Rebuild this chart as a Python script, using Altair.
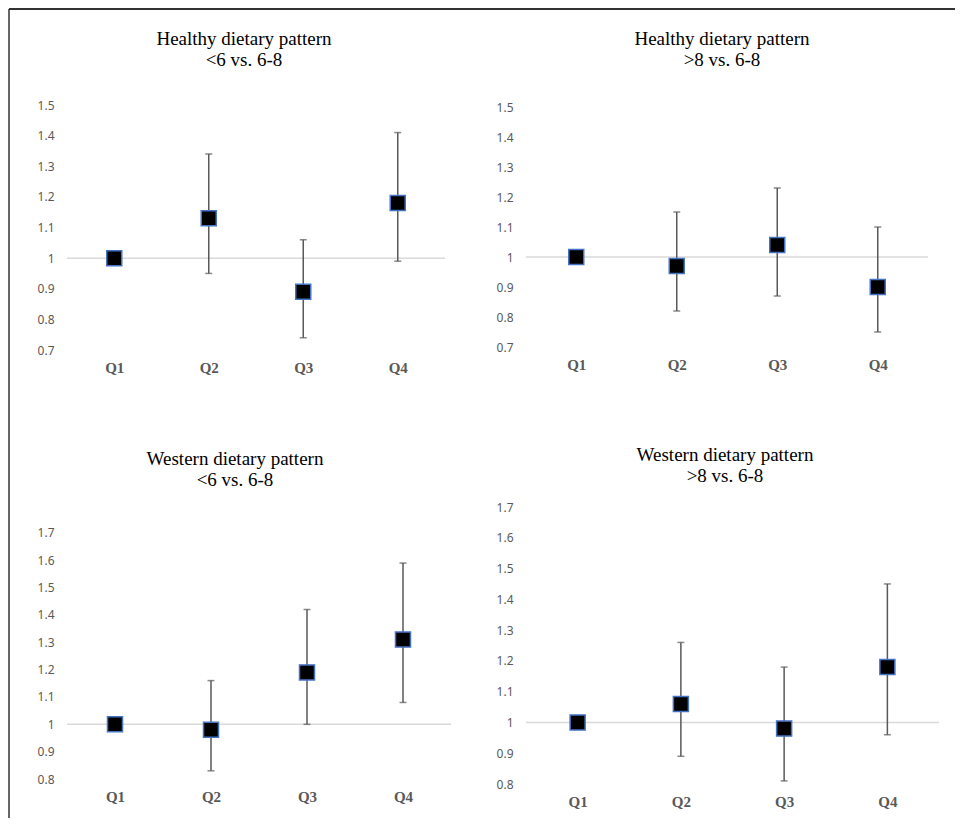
import altair as alt
import pandas as pd

quartiles = ["Q1", "Q2", "Q3", "Q4"]

# Healthy dietary pattern, <6 vs. 6-8
hl_or = [1.00, 1.13, 0.89, 1.18]
hl_lo = [None, 0.95, 0.74, 0.99]
hl_hi = [None, 1.34, 1.06, 1.41]

# Healthy dietary pattern, >8 vs. 6-8
hh_or = [1.00, 0.97, 1.04, 0.90]
hh_lo = [None, 0.82, 0.87, 0.75]
hh_hi = [None, 1.15, 1.23, 1.10]

# Western dietary pattern, <6 vs. 6-8
wl_or = [1.00, 0.98, 1.19, 1.31]
wl_lo = [None, 0.83, 1.00, 1.08]
wl_hi = [None, 1.16, 1.42, 1.59]

# Western dietary pattern, >8 vs. 6-8
wh_or = [1.00, 1.06, 0.98, 1.18]
wh_lo = [None, 0.89, 0.81, 0.96]
wh_hi = [None, 1.26, 1.18, 1.45]

titles = [
    ["Healthy dietary pattern", "<6 vs. 6-8"],
    ["Healthy dietary pattern", ">8 vs. 6-8"],
    ["Western dietary pattern", "<6 vs. 6-8"],
    ["Western dietary pattern", ">8 vs. 6-8"],
]
ticks_healthy = [0.7, 0.8, 0.9, 1, 1.1, 1.2, 1.3, 1.4, 1.5]
ticks_western = [0.8, 0.9, 1, 1.1, 1.2, 1.3, 1.4, 1.5, 1.6, 1.7]

BAR = "#595959"


def panel(or_, lo, hi, title, domain, ticks, width, height, t_x, t_y, border=False):
    df = pd.DataFrame({"q": quartiles, "or": or_, "lo": lo, "hi": hi})
    x = alt.X("q:N", sort=quartiles, scale=alt.Scale(type="point", padding=0.5),
              axis=alt.Axis(title=None, labelAngle=0))
    yax = alt.Axis(title=None, values=ticks, format="~g")
    ysc = alt.Scale(domain=domain, nice=False, zero=False)

    ref = alt.Chart(pd.DataFrame({"or": [1.0]})).mark_rule(
        color="#d9d9d9", strokeWidth=1.5
    ).encode(y=alt.Y("or:Q", scale=ysc, axis=yax))

    eb = alt.Chart(df).transform_filter("isValid(datum.lo)")
    bars = eb.mark_rule(color=BAR, strokeWidth=1.5).encode(
        x=x, y=alt.Y("lo:Q", scale=ysc, axis=yax), y2="hi:Q")
    cap_lo = eb.mark_tick(color=BAR, size=7, thickness=1.5, orient="horizontal").encode(
        x=x, y=alt.Y("lo:Q", scale=ysc, axis=yax))
    cap_hi = eb.mark_tick(color=BAR, size=7, thickness=1.5, orient="horizontal").encode(
        x=x, y=alt.Y("hi:Q", scale=ysc, axis=yax))
    pts = alt.Chart(df).mark_square(
        size=225, filled=True, fill="black", stroke="#4472C4", strokeWidth=1.5, opacity=1
    ).encode(x=x, y=alt.Y("or:Q", scale=ysc, axis=yax))

    layers = [ref, bars, cap_lo, cap_hi, pts]
    for i, line in enumerate(title):
        layers.append(
            alt.Chart(pd.DataFrame({"t": [line]})).mark_text(
                font="Liberation Serif", fontSize=19, color="black",
                align="center", baseline="alphabetic",
            ).encode(text="t:N", x=alt.value(t_x), y=alt.value(t_y + 21 * i))
        )
    if border:
        one = pd.DataFrame({"a": [0]})
        top = alt.Chart(one).mark_rule(color="#333333", strokeWidth=2).encode(
            x=alt.value(-58), x2=alt.value(888), y=alt.value(-96))
        left = alt.Chart(one).mark_rule(color="#333333", strokeWidth=1.5).encode(
            x=alt.value(-58), y=alt.value(-96), y2=alt.value(713))
        layers += [top, left]

    return alt.layer(*layers).properties(width=width, height=height)


tl = panel(hl_or, hl_lo, hl_hi, titles[0], [0.7, 1.5], ticks_healthy, 378, 245, 177, -60, border=True)
tr = panel(hh_or, hh_lo, hh_hi, titles[1], [0.7, 1.5067], ticks_healthy, 402, 242, 196, -60)
bl = panel(wl_or, wl_lo, wl_hi, titles[2], [0.8, 1.795], ticks_western, 384, 272, 168, -42)
br = panel(wh_or, wh_lo, wh_hi, titles[3], [0.8, 1.7], ticks_western, 413, 277, 199, -46)

chart = alt.concat(
    tl, tr, bl, br, columns=2,
    spacing={"row": 125, "column": 46}, bounds="flush", align="all",
).properties(
    padding={"top": 0, "left": 0, "right": 0, "bottom": 0}, background="white"
).configure_view(
    stroke=None
).configure_axis(
    domain=False, ticks=False, grid=False
).configure_axisX(
    labelFont="Liberation Serif", labelFontWeight="bold", labelFontSize=15,
    labelColor="#595959", labelPadding=10,
).configure_axisY(
    labelFont="Noto Sans", labelFontSize=12, labelColor="#595959", labelPadding=13,
)

chart.save("out.html", embed_options={"renderer": "svg", "actions": False})
